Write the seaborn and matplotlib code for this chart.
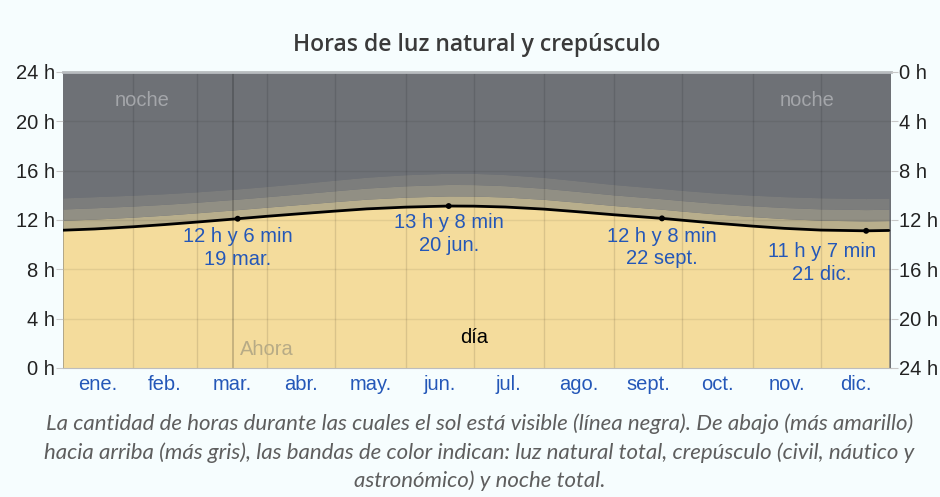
import numpy as np
import pandas as pd
import matplotlib.pyplot as plt
import seaborn as sns

# sample dates (month-day) and read-off values in hours
sample_dates = ['01-01', '01-15', '02-01', '02-15', '03-01', '03-19', '04-01', '04-15',
                '05-01', '05-15', '06-01', '06-20', '07-01', '07-15', '08-01', '08-15',
                '09-01', '09-22', '10-01', '10-15', '11-01', '11-15', '12-01', '12-21', '12-31']
daylight = [11.17, 11.27, 11.45, 11.63, 11.83, 12.10, 12.30, 12.50,
            12.72, 12.90, 13.04, 13.13, 13.12, 13.05, 12.88, 12.68,
            12.42, 12.13, 11.98, 11.75, 11.50, 11.32, 11.18, 11.12, 11.15]
civil = [0.80, 0.80, 0.78, 0.76, 0.75, 0.74, 0.74, 0.75,
         0.77, 0.79, 0.81, 0.82, 0.82, 0.81, 0.79, 0.77,
         0.75, 0.74, 0.74, 0.75, 0.77, 0.79, 0.80, 0.80, 0.80]
nautical = [0.92, 0.92, 0.90, 0.88, 0.86, 0.85, 0.85, 0.86,
            0.88, 0.90, 0.92, 0.93, 0.93, 0.92, 0.90, 0.88,
            0.86, 0.85, 0.85, 0.86, 0.88, 0.90, 0.92, 0.92, 0.92]
astronomical = [0.90, 0.90, 0.88, 0.86, 0.84, 0.83, 0.83, 0.84,
                0.86, 0.88, 0.90, 0.91, 0.91, 0.90, 0.88, 0.86,
                0.84, 0.83, 0.83, 0.84, 0.86, 0.88, 0.90, 0.90, 0.90]

months = ['ene.', 'feb.', 'mar.', 'abr.', 'may.', 'jun.', 'jul.', 'ago.',
          'sept.', 'oct.', 'nov.', 'dic.']

# solstice / equinox labels
key_dates = ['03-19', '06-20', '09-22', '12-21']
key_hours = [12.10, 13.13, 12.13, 11.12]
key_text = ['12 h y 6 min', '13 h y 8 min', '12 h y 8 min', '11 h y 7 min']
key_day = ['19 mar.', '20 jun.', '22 sept.', '21 dic.']
now_date = '03-17'


def doy(md):
    return pd.to_datetime('2023-' + pd.Series(md)).dt.dayofyear.to_numpy() - 1


df = pd.DataFrame({'day': doy(sample_dates), 'daylight': daylight,
                   'civil': civil, 'nautical': nautical, 'astro': astronomical})
df['c_top'] = df['daylight'] + df['civil']
df['n_top'] = df['c_top'] + df['nautical']
df['a_top'] = df['n_top'] + df['astro']

sns.set_style('white')
plt.rcParams['font.family'] = ['Liberation Sans', 'DejaVu Sans']

bg = '#f6fdfe'
blue = '#2457b8'
fig = plt.figure(figsize=(9.4, 4.97), dpi=100, facecolor=bg)
ax = fig.add_axes([0.067, 0.2596, 0.881, 0.5956])
ax.set_facecolor('#6e7176')

x = df['day']
ax.fill_between(x, 0, df['daylight'], color='#f4dc9c', lw=0, zorder=1)
ax.fill_between(x, df['daylight'], df['c_top'], color='#b8ae8c', lw=0, zorder=1)
ax.fill_between(x, df['c_top'], df['n_top'], color='#918f84', lw=0, zorder=1)
ax.fill_between(x, df['n_top'], df['a_top'], color='#7c7d7c', lw=0, zorder=1)
ax.fill_between(x, df['a_top'], 24, color='#6e7176', lw=0, zorder=1)

sns.lineplot(data=df, x='day', y='daylight', color='black', lw=2.0, ax=ax, zorder=4)

kd = doy(key_dates)
sns.scatterplot(x=kd, y=key_hours, color='black', s=18, ax=ax, zorder=5, edgecolor='none')

offsets = [(0, -6), (0, -5), (0, -6), (-32, -8)]
for d, h, t1, t2, off in zip(kd, key_hours, key_text, key_day, offsets):
    ax.annotate(t1 + '\n' + t2, (d, h), xytext=off, textcoords='offset points',
                ha='center', va='top', fontsize=14.5, color=blue,
                linespacing=1.25, zorder=6)

# grid
month_starts = doy([f'{m:02d}-01' for m in range(1, 13)])
for b in month_starts[1:]:
    ax.axvline(b, color='black', alpha=0.11, lw=1, zorder=2)
for h in range(4, 24, 4):
    ax.axhline(h, color='black', alpha=0.07, lw=1, zorder=2)
ax.axvline(doy([now_date])[0], color='black', alpha=0.22, lw=1.2, zorder=2)

ax.text(doy(['02-05'])[0], 21.65, 'noche', color='#a4a6aa', fontsize=14.5, ha='center', va='center')
ax.text(doy(['11-25'])[0], 21.65, 'noche', color='#a4a6aa', fontsize=14.5, ha='center', va='center')
ax.text(doy(['07-01'])[0], 2.45, 'día', color='black', fontsize=14.5, ha='center', va='center')
ax.text(doy(['04-01'])[0], 1.5, 'Ahora', color='#b7ab86', fontsize=14.5, ha='center', va='center')

ax.set_xlim(0, 365)
ax.set_ylim(0, 24)
ax.set_yticks(range(0, 25, 4))
ax.set_yticklabels([f'{h} h' for h in range(0, 25, 4)])
ax.set_xticks(month_starts[1:])
ax.set_xticklabels([])
edges = np.append(month_starts, 365)
centers = (edges[:-1] + edges[1:]) / 2
ax.set_xticks(centers, minor=True)
ax.set_xticklabels(months, minor=True)
ax.tick_params(axis='x', which='major', length=7, color='#c8c8c8', width=1)
ax.tick_params(axis='x', which='minor', length=0, labelsize=14.5, labelcolor=blue, pad=5)
ax.tick_params(axis='y', length=5, color='#c8c8c8', labelsize=14.5, labelcolor='#222222', pad=1)
ax.set_xlabel('')
ax.set_ylabel('')

ax2 = ax.twinx()
ax2.set_ylim(24, 0)
ax2.set_yticks(range(0, 25, 4))
ax2.set_yticklabels([f'{h} h' for h in range(0, 25, 4)])
ax2.tick_params(axis='y', length=5, color='#c8c8c8', labelsize=14.5, labelcolor='#222222', pad=1)

for a in (ax, ax2):
    for s in a.spines.values():
        s.set_visible(False)
ax.spines['bottom'].set_visible(True)
ax.spines['bottom'].set_color('#bdbdbd')
ax.spines['top'].set_visible(True)
ax.spines['top'].set_color('#b8bcbf')
ax.spines['top'].set_linewidth(2)

fig.text(0.507, 0.909, 'Horas de luz natural y crepúsculo', ha='center', va='center',
         fontsize=16.5, color='#3a3a3a', fontweight='semibold', family=['Open Sans', 'DejaVu Sans'])

caption = ('La cantidad de horas durante las cuales el sol está visible (línea negra). De abajo (más amarillo)\n'
           'hacia arriba (más gris), las bandas de color indican: luz natural total, crepúsculo (civil, náutico y\n'
           'astronómico) y noche total.')
fig.text(0.51, 0.09, caption, ha='center', va='center', fontsize=16, color='#5e5e5e',
         style='italic', linespacing=1.5, family=['Lato', 'DejaVu Sans'])

fig.savefig('out.png', dpi=100, facecolor=bg)
